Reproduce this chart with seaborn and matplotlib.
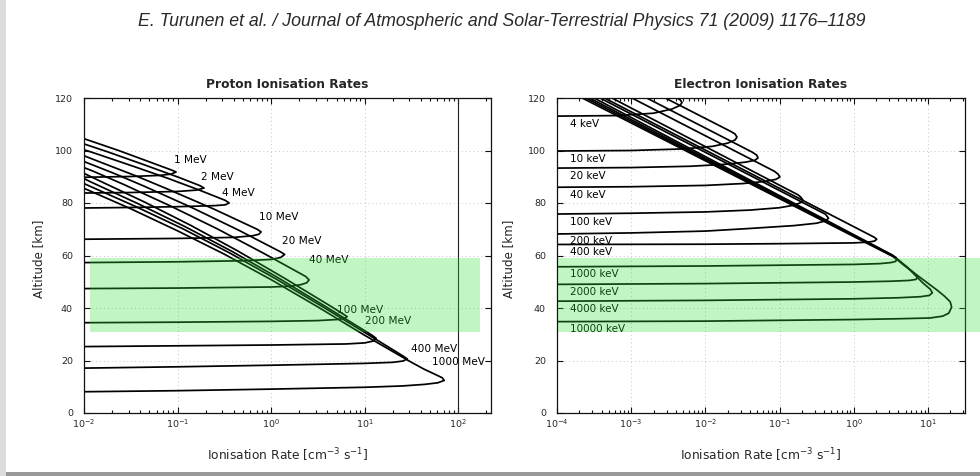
import numpy as np
import pandas as pd
import matplotlib
matplotlib.use("Agg")
import matplotlib.pyplot as plt
from matplotlib.patches import Rectangle
from matplotlib.ticker import LogLocator, MultipleLocator, NullFormatter, LogFormatterSciNotation
import seaborn as sns

HEADER = "E. Turunen et al. / Journal of Atmospheric and Solar-Terrestrial Physics 71 (2009) 1176\u20131189"
TITLE_P = "Proton Ionisation Rates"
TITLE_E = "Electron Ionisation Rates"
XLABEL = r"Ionisation Rate [cm$^{-3}$ s$^{-1}$]"
YLABEL = "Altitude [km]"

# ---------------- proton profiles: log10(rate) and altitude (km) ----------------
P1_LOGR = [-2.0, -1.5, -1.2, -1.07, -1.016, -1.06, -1.25, -1.63, -2.0]
P1_ALT = [89.8, 90.1, 90.5, 91.0, 91.8, 92.5, 95.0, 100.0, 104.5]
P2_LOGR = [-2.0, -1.5, -1.0, -0.8, -0.717, -0.76, -0.99, -1.36, -1.74, -2.0]
P2_ALT = [83.8, 84.0, 84.4, 84.9, 85.7, 86.6, 89.8, 94.6, 99.4, 102.5]
P4_LOGR = [-2.0, -1.5, -1.0, -0.6, -0.49, -0.449, -0.49, -0.766, -1.096, -1.466, -1.846, -2.0]
P4_ALT = [78.1, 78.3, 78.6, 79.0, 79.3, 80.0, 81.0, 84.9, 89.3, 93.9, 98.5, 100.3]
P10_LOGR = [-2.0, -1.0, -0.4, -0.2, -0.13, -0.107, -0.15, -0.613, -1.113, -1.443, -1.813, -2.0]
P10_ALT = [66.2, 66.5, 66.9, 67.5, 68.1, 69.0, 70.0, 77.7, 85.4, 90.3, 95.4, 98.0]
P20_LOGR = [-2.0, -1.0, -0.3, 0.0, 0.10, 0.145, 0.10, -0.35, -0.85, -1.35, -1.68, -2.0]
P20_ALT = [57.3, 57.6, 58.0, 58.5, 59.2, 60.4, 61.4, 69.7, 78.3, 86.3, 91.3, 95.8]
P40_LOGR = [-2.0, -1.0, 0.0, 0.2, 0.32, 0.38, 0.406, 0.37, -0.078, -0.578, -1.078, -1.578, -1.908, -2.0]
P40_ALT = [47.4, 47.6, 48.0, 48.3, 48.9, 49.6, 50.7, 52.0, 60.8, 70.2, 78.9, 87.1, 92.2, 93.5]
P100_LOGR = [-2.0, -1.0, 0.0, 0.5, 0.70, 0.78, 0.813, 0.77, 0.645, 0.145, -0.355, -0.855, -1.355, -1.855, -2.0]
P100_ALT = [34.4, 34.6, 34.9, 35.2, 35.6, 36.0, 36.7, 37.7, 40.5, 51.3, 61.7, 71.4, 80.4, 88.8, 91.3]
P200_LOGR = [-2.0, -1.0, 0.0, 0.8, 1.0, 1.09, 1.123, 1.08, 0.58, 0.08, -0.42, -0.92, -1.42, -1.92, -2.0]
P200_ALT = [25.3, 25.6, 25.9, 26.3, 26.7, 27.4, 28.4, 29.6, 40.6, 51.4, 61.6, 71.0, 79.7, 87.9, 89.3]
P400_LOGR = [-2.0, -1.0, 0.0, 1.0, 1.3, 1.41, 1.455, 1.41, 1.05, 0.55, 0.05, -0.45, -0.95, -1.45, -1.95, -2.0]
P400_ALT = [17.1, 17.6, 18.2, 18.9, 19.3, 19.8, 20.6, 21.7, 29.6, 40.5, 51.1, 61.1, 70.3, 78.7, 86.6, 87.4]
P1000_LOGR = [-2.0, -1.0, 0.0, 1.0, 1.4, 1.64, 1.78, 1.85, 1.83, 1.76, 1.64, 1.5, 1.0, 0.5, 0.0, -0.5, -1.0, -1.5, -2.0]
P1000_ALT = [8.1, 8.5, 9.1, 9.8, 10.3, 10.9, 11.5, 12.4, 13.4, 14.6, 16.6, 19.3, 29.6, 40.4, 50.8, 60.5, 69.4, 77.8, 85.6]

PROTON_LABELS = ["1 MeV", "2 MeV", "4 MeV", "10 MeV", "20 MeV", "40 MeV",
                 "100 MeV", "200 MeV", "400 MeV", "1000 MeV"]
PROTON_LOGR = [P1_LOGR, P2_LOGR, P4_LOGR, P10_LOGR, P20_LOGR, P40_LOGR,
               P100_LOGR, P200_LOGR, P400_LOGR, P1000_LOGR]
PROTON_ALT = [P1_ALT, P2_ALT, P4_ALT, P10_ALT, P20_ALT, P40_ALT,
              P100_ALT, P200_ALT, P400_ALT, P1000_ALT]

# ---------------- electron profiles: log10(rate) and altitude (km) ----------------
E4_LOGR = [-4.0, -3.2, -2.7, -2.45, -2.34, -2.315, -2.34, -2.38]
E4_ALT = [113.1, 113.3, 114.2, 115.8, 117.2, 118.3, 119.3, 120.0]
E10_LOGR = [-4.0, -3.0, -2.3, -1.9, -1.7, -1.6, -1.574, -1.6, -1.66, -2.54]
E10_ALT = [99.8, 100.0, 100.6, 101.6, 102.8, 104.0, 105.1, 106.3, 107.3, 120.0]
E20_LOGR = [-4.0, -3.0, -2.2, -1.7, -1.45, -1.33, -1.29, -1.31, -1.37, -2.79]
E20_ALT = [93.3, 93.5, 94.0, 94.8, 95.6, 96.3, 97.2, 98.3, 99.4, 120.0]
E40_LOGR = [-4.0, -3.0, -2.0, -1.5, -1.2, -1.05, -0.995, -1.02, -1.07, -2.99]
E40_ALT = [86.0, 86.2, 86.7, 87.4, 88.2, 89.0, 89.9, 91.0, 92.1, 120.0]
E100_LOGR = [-4.0, -3.0, -2.0, -1.4, -1.0, -0.8, -0.71, -0.685, -0.71, -0.75, -3.26]
E100_ALT = [75.8, 76.1, 76.6, 77.3, 78.2, 79.2, 80.2, 81.1, 82.1, 83.1, 120.0]
E200_LOGR = [-4.0, -3.0, -2.0, -1.4, -0.8, -0.5, -0.38, -0.34, -0.38, -3.42]
E200_ALT = [68.2, 68.6, 69.3, 70.3, 71.4, 72.3, 73.2, 74.2, 75.7, 120.0]
E400_LOGR = [-4.0, -2.0, -1.0, 0.0, 0.2, 0.28, 0.31, 0.28, -3.36]
E400_ALT = [64.2, 64.3, 64.5, 64.8, 65.1, 65.5, 66.2, 66.9, 120.0]
E1000_LOGR = [-4.0, -2.0, -1.0, 0.0, 0.35, 0.5, 0.56, 0.58, 0.56, 0.52, -3.50]
E1000_ALT = [55.7, 56.0, 56.3, 56.6, 56.9, 57.3, 57.7, 58.3, 59.0, 60.2, 120.0]
E2000_LOGR = [-4.0, -2.0, -1.0, 0.0, 0.5, 0.75, 0.84, 0.86, 0.83, 0.76, 0.65, 0.55, -3.56]
E2000_ALT = [49.0, 49.3, 49.6, 49.9, 50.2, 50.5, 50.9, 51.6, 52.8, 54.5, 56.9, 59.6, 120.0]
E4000_LOGR = [-4.0, -2.0, -1.0, 0.0, 0.6, 0.9, 1.02, 1.06, 1.03, 0.93, 0.72, 0.56, -3.61]
E4000_ALT = [42.6, 42.9, 43.2, 43.5, 43.9, 44.3, 44.8, 45.8, 47.2, 49.6, 55.6, 59.3, 120.0]
E10000_LOGR = [-4.0, -2.0, -1.0, 0.0, 0.6, 1.03, 1.2, 1.28, 1.32, 1.30, 1.22, 1.12, 0.85, 0.62, 0.53, -3.66]
E10000_ALT = [34.8, 35.0, 35.3, 35.6, 35.9, 36.2, 36.9, 38.0, 40.3, 42.4, 44.6, 46.9, 52.6, 57.7, 59.6, 120.0]

ELECTRON_LABELS = ["4 keV", "10 keV", "20 keV", "40 keV", "100 keV", "200 keV",
                   "400 keV", "1000 keV", "2000 keV", "4000 keV", "10000 keV"]
ELECTRON_LOGR = [E4_LOGR, E10_LOGR, E20_LOGR, E40_LOGR, E100_LOGR, E200_LOGR,
                 E400_LOGR, E1000_LOGR, E2000_LOGR, E4000_LOGR, E10000_LOGR]
ELECTRON_ALT = [E4_ALT, E10_ALT, E20_ALT, E40_ALT, E100_ALT, E200_ALT,
                E400_ALT, E1000_ALT, E2000_ALT, E4000_ALT, E10000_ALT]


def build_frame(labels, logrs, alts):
    rows = []
    for lab, lr, al in zip(labels, logrs, alts):
        for i, (x, y) in enumerate(zip(lr, al)):
            rows.append((lab, i, 10.0 ** x, y))
    return pd.DataFrame(rows, columns=["energy", "step", "rate", "alt"])


df_p = build_frame(PROTON_LABELS, PROTON_LOGR, PROTON_ALT)
df_e = build_frame(ELECTRON_LABELS, ELECTRON_LOGR, ELECTRON_ALT)

# ---------------- style ----------------
sns.set_style("ticks")
plt.rcParams["font.family"] = ["DejaVu Sans"]
plt.rcParams["axes.edgecolor"] = "#111111"
plt.rcParams["axes.linewidth"] = 0.9

fig = plt.figure(figsize=(9.8, 4.76), dpi=100)
fig.patch.set_facecolor("white")

axL = fig.add_axes([84 / 980, 1 - 413 / 476, 407 / 980, 315 / 476])
axR = fig.add_axes([557 / 980, 1 - 413 / 476, 408 / 980, 315 / 476])

PX = 0.72  # points per pixel


def style_axis(ax, xmin, xmax, title):
    ax.set_xscale("log")
    ax.set_xlim(xmin, xmax)
    ax.set_ylim(0, 120)
    ax.yaxis.set_major_locator(MultipleLocator(20))
    ax.xaxis.set_major_locator(LogLocator(base=10, numticks=12))
    ax.xaxis.set_major_formatter(LogFormatterSciNotation())
    ax.xaxis.set_minor_locator(LogLocator(base=10, subs=np.arange(2, 10), numticks=12))
    ax.xaxis.set_minor_formatter(NullFormatter())
    ax.tick_params(which="both", direction="in", top=True, right=True,
                   color="#111111", width=0.8)
    ax.tick_params(which="major", length=4, labelsize=6.8)
    ax.tick_params(which="minor", length=2)
    ax.tick_params(axis="y", pad=8)
    ax.tick_params(axis="x", pad=3)
    ax.grid(True, which="major", color="#c4c4c4", ls=(0, (1, 3)), lw=0.7)
    ax.set_axisbelow(True)
    ax.set_title(title, fontsize=8.8, fontweight="bold", pad=7)
    for s in ax.spines.values():
        s.set_visible(True)
        s.set_color("#111111")


style_axis(axL, 1e-2, 10 ** 2.35, TITLE_P)
style_axis(axR, 1e-4, 10 ** 1.5, TITLE_E)

axL.axvline(100, color="#222222", lw=0.8, zorder=1)

sns.lineplot(data=df_p, x="rate", y="alt", units="energy", estimator=None,
             sort=False, color="black", linewidth=1.25, ax=axL, legend=False)
sns.lineplot(data=df_e, x="rate", y="alt", units="energy", estimator=None,
             sort=False, color="black", linewidth=1.25, ax=axR, legend=False)

for ax in (axL, axR):
    ax.set_xlabel(XLABEL, fontsize=8.8)
    ax.set_ylabel(YLABEL, fontsize=8.6)
    ax.xaxis.set_label_coords(0.5, -0.105)
axL.yaxis.set_label_coords(-0.096, 0.49)
axR.yaxis.set_label_coords(-0.103, 0.49)

# proton labels beside each profile's nose
PROTON_LABEL_OFFSETS = [(-2, 12), (-3, 11), (-7, 10), (-2, 15), (-3, 13), (0, 20),
                        (-10, 7), (-11, 17), (4, 10), (-12, 18)]
for lab, lr, al, (dx, dy) in zip(PROTON_LABELS, PROTON_LOGR, PROTON_ALT, PROTON_LABEL_OFFSETS):
    k = int(np.argmax(lr))
    axL.annotate(lab, xy=(10.0 ** lr[k], al[k]), xytext=(dx * PX, dy * PX),
                 textcoords="offset points", ha="left", va="center", fontsize=7.6,
                 color="black")

# electron labels under each profile's lower edge
for lab, lr, al in zip(ELECTRON_LABELS, ELECTRON_LOGR, ELECTRON_ALT):
    axR.annotate(lab, xy=(10.0 ** lr[0], al[0]), xytext=(13 * PX, -7.5 * PX),
                 textcoords="offset points", ha="left", va="center", fontsize=7.5,
                 color="black")

# header line
fig.text(502 / 980, 1 - 22 / 476, HEADER, ha="center", va="center", fontsize=12.8,
         style="italic", family=["Liberation Sans", "DejaVu Sans"], color="#2a2a2a")

# green highlight bands
band_kw = dict(transform=fig.transFigure, facecolor=(0.2, 0.87, 0.2), alpha=0.3,
               edgecolor="none", zorder=10)
fig.add_artist(Rectangle((90 / 980, 1 - 332 / 476), 390 / 980, 74 / 476, **band_kw))
fig.add_artist(Rectangle((558 / 980, 1 - 332 / 476), 422 / 980, 74 / 476, **band_kw))

# page edges
fig.add_artist(Rectangle((0, 0), 1, 4 / 476, transform=fig.transFigure,
                         facecolor="#999999", edgecolor="none", zorder=11))
fig.add_artist(Rectangle((0, 0), 6 / 980, 1, transform=fig.transFigure,
                         facecolor="#dcdcdc", edgecolor="none", zorder=11))

fig.savefig("out.png", dpi=100)
